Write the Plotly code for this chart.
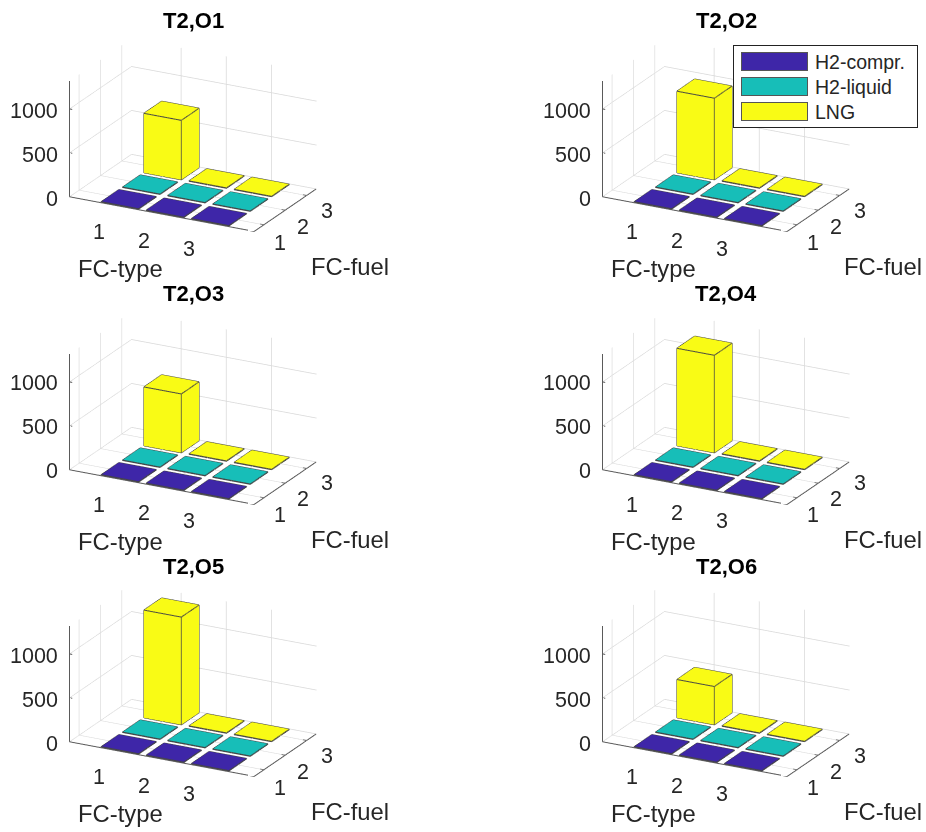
import plotly.graph_objects as go

panel_titles = ["T2,O1", "T2,O2", "T2,O3", "T2,O4", "T2,O5", "T2,O6"]
fc_types = [1, 2, 3]
fc_fuels = [1, 2, 3]
fuel_names = ["H2-compr.", "H2-liquid", "LNG"]
fuel_colors = ["#3e26a8", "#17beb8", "#f9fb15"]
# values[fuel index][type index]
t2_o1 = [[4, 4, 4], [4, 4, 4], [677, 4, 4]]
t2_o2 = [[4, 4, 4], [4, 4, 4], [929, 4, 4]]
t2_o3 = [[4, 4, 4], [4, 4, 4], [670, 4, 4]]
t2_o4 = [[4, 4, 4], [4, 4, 4], [1110, 4, 4]]
t2_o5 = [[4, 4, 4], [4, 4, 4], [1226, 4, 4]]
t2_o6 = [[4, 4, 4], [4, 4, 4], [436, 4, 4]]
panels = [t2_o1, t2_o2, t2_o3, t2_o4, t2_o5, t2_o6]
z_ticks = [0, 500, 1000]
x_range = [-0.1, 4.0]
y_range = [0.55, 3.45]
z_range = [0, 1318]

W, H = 926, 832
OFF = 0
BAR = 0.83
R = 2.0
EYE = (0.4325 * R, -0.8273 * R, 0.358 * R)
ASPECT = dict(x=1.67, y=1.07, z=0.992)
centers_x = [193, 726]
centers_y = [135, 407.5, 680]
HALF_W, HALF_H = 180, 125
TEXT = "#262626"
FONT = "Liberation Sans"
EPS = 0.006

fig = go.Figure()
layout_ann = []
scene_layout = {}


def cuboid(cx, cy, h):
    d = BAR / 2
    xs = [cx - d, cx + d, cx + d, cx - d] * 2
    ys = [cy - d, cy - d, cy + d, cy + d] * 2
    zs = [0] * 4 + [h] * 4
    i = [0, 0, 4, 4, 0, 0, 1, 1, 2, 2, 3, 3]
    j = [1, 2, 5, 6, 1, 5, 2, 6, 3, 7, 0, 4]
    k = [2, 3, 6, 7, 5, 4, 6, 5, 7, 6, 4, 7]
    ex, ey, ez = [], [], []
    for a, b in [(0, 1), (1, 2), (2, 3), (3, 0), (4, 5), (5, 6), (6, 7), (7, 4), (0, 4), (1, 5), (2, 6), (3, 7)]:
        ex += [xs[a], xs[b], None]
        ey += [ys[a], ys[b], None]
        ez += [zs[a], zs[b], None]
    return xs, ys, zs, i, j, k, ex, ey, ez


for p, values in enumerate(panels):
    col, row = p % 2, p // 2
    sid = "scene" if p == 0 else f"scene{p + 1}"
    cx, cy = centers_x[col], centers_y[row]
    for f, fuel in enumerate(fc_fuels):
        for t, typ in enumerate(fc_types):
            xs, ys, zs, i, j, k, ex, ey, ez = cuboid(typ, fuel, values[f][t])
            fig.add_trace(go.Mesh3d(x=xs, y=ys, z=zs, i=i, j=j, k=k, color=fuel_colors[f], flatshading=True,
                                    lighting=dict(ambient=1, diffuse=0, specular=0, roughness=1, fresnel=0),
                                    hoverinfo="skip", scene=sid, showscale=False, name=fuel_names[f]))
            fig.add_trace(go.Scatter3d(x=ex, y=ey, z=ez, mode="lines", line=dict(color="#444444", width=2),
                                       hoverinfo="skip", scene=sid, showlegend=False))
    # axis frame and tick marks
    ax, ay, az = [], [], []
    x0, x1 = x_range
    y0, y1 = y_range
    xe = x1 - EPS
    for seg in [((x0, y0, 0), (xe, y0, 0)), ((xe, y0, 0), (xe, y1, 0)), ((x0, y0, 0), (x0, y0, z_range[1]))]:
        ax += [seg[0][0], seg[1][0], None]
        ay += [seg[0][1], seg[1][1], None]
        az += [seg[0][2], seg[1][2], None]
    for v in fc_types:
        ax += [v, v, None]; ay += [y0, y0 + 0.05, None]; az += [0, 0, None]
    for v in fc_fuels:
        ax += [xe, xe - 0.08, None]; ay += [v, v, None]; az += [0, 0, None]
    for v in z_ticks:
        ax += [x0, x0 + 0.06, None]; ay += [y0, y0, None]; az += [v, v, None]
    fig.add_trace(go.Scatter3d(x=ax, y=ay, z=az, mode="lines", line=dict(color="#5a5a5a", width=2),
                               hoverinfo="skip", scene=sid, showlegend=False))

    ann = []
    tf = dict(family=FONT, size=21.5, color=TEXT)
    common = dict(showarrow=False, xanchor="center", yanchor="middle")
    for v in fc_types:
        ann.append(dict(common, x=v, y=y0, z=0, text=str(v), xshift=-20, yshift=-26, font=tf))
    for v in fc_fuels:
        ann.append(dict(common, x=xe, y=v, z=0, text=str(v), xshift=14 + 2 * v, yshift=-19.5 + 1.5 * v, font=tf))
    for v in z_ticks:
        ann.append(dict(common, x=x0, y=y0, z=v, text=str(v), xshift=-10, yshift=-2, xanchor="right", font=tf))
    lf = dict(family=FONT, size=23.8, color=TEXT)
    ann.append(dict(common, x=x0, y=y0, z=0, text="FC-type", xshift=51, yshift=-72, font=lf))
    ann.append(dict(common, x=xe, y=fc_fuels[-1], z=0, text="FC-fuel", xshift=43, yshift=-71, font=lf))

    axis = dict(showbackground=False, showline=False, zeroline=False, showticklabels=False, title=dict(text=""),
                showgrid=True, gridcolor="#d8d8d8", gridwidth=1.5, showspikes=False, ticks="")
    scene_layout[sid] = dict(
        domain=dict(x=[(cx - HALF_W - OFF) / W, (cx + HALF_W - OFF) / W],
                    y=[1 - (cy + HALF_H - OFF) / H, 1 - (cy - HALF_H - OFF) / H]),
        xaxis=dict(axis, range=x_range, tickvals=fc_types),
        yaxis=dict(axis, range=y_range, tickvals=fc_fuels),
        zaxis=dict(axis, range=z_range, tickvals=z_ticks),
        aspectmode="manual", aspectratio=ASPECT,
        camera=dict(eye=dict(x=EYE[0], y=EYE[1], z=EYE[2]), center=dict(x=0, y=0, z=0), up=dict(x=0, y=0, z=1),
                    projection=dict(type="orthographic")),
        annotations=ann,
    )
    layout_ann.append(dict(x=(cx - OFF) / W, y=1 - (cy - 114 - OFF) / H, xref="paper", yref="paper",
                           xanchor="center", yanchor="middle",
                           text=f"<b>{panel_titles[p]}</b>", showarrow=False,
                           font=dict(family=FONT, size=22, color="#000000")))


def px(pageX):
    return (pageX - OFF) / W


def py(pageY):
    return 1 - (pageY - OFF) / H


# legend drawn above the WebGL layer
layout_ann.append(dict(x=px(825), y=py(86.5), xref="paper", yref="paper", xanchor="center", yanchor="middle",
                       text=" ", showarrow=False, width=183, height=81,
                       bgcolor="#ffffff", bordercolor="#222222", borderwidth=1, borderpad=0))
for n, name in enumerate(fuel_names):
    yy = 62 + 24.75 * n
    layout_ann.append(dict(x=px(774), y=py(yy), xref="paper", yref="paper", xanchor="center", yanchor="middle",
                           text=" ", showarrow=False, width=65, height=17,
                           bgcolor=fuel_colors[n], bordercolor="#555555", borderwidth=1, borderpad=0))
    layout_ann.append(dict(x=px(813), y=py(yy), xref="paper", yref="paper", text=name, showarrow=False, xanchor="left",
                           yanchor="middle", font=dict(family=FONT, size=19.5, color=TEXT)))

fig.update_layout(width=W, height=H, margin=dict(l=0, r=0, t=0, b=0), paper_bgcolor="white", showlegend=False,
                  annotations=layout_ann, **scene_layout)
fig.write_html("out.html", config={"displayModeBar": False}, post_script="document.body.style.margin='0';")
